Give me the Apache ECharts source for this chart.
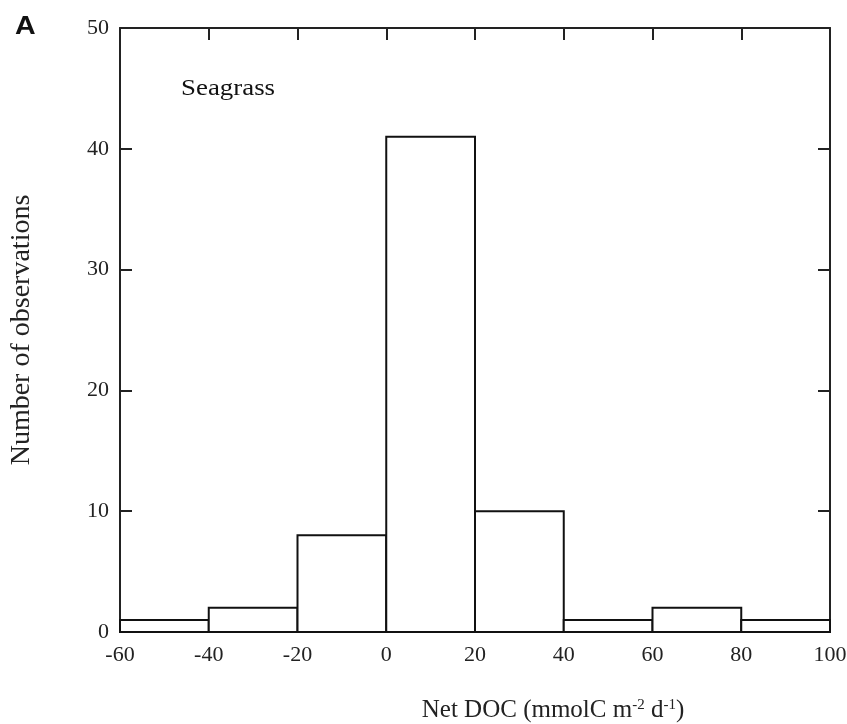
<!DOCTYPE html>
<html>
<head>
<meta charset="utf-8">
<script src="https://cdn.jsdelivr.net/npm/echarts@6/dist/echarts.min.js"></script>
<style>html,body{margin:0;padding:0;background:#fff;}#c{width:847px;height:724px;}</style>
</head>
<body>
<div id="c"></div>
<script>
const binStarts = [-60, -40, -20, 0, 20, 40, 60, 80];
const binEnds = [-40, -20, 0, 20, 40, 60, 80, 100];
const counts = [1, 2, 8, 41, 10, 1, 2, 1];
const panelLabel = 'A';
const groupLabel = 'Seagrass';
const xTitle = 'Net DOC (mmolC m{sup|-2} d{sup|-1})';
const yTitle = 'Number of observations';

const data = binStarts.map((s, i) => [s, binEnds[i], counts[i]]);
const serif = '"Liberation Serif", "Times New Roman", serif';
const axisLine = { show: true, onZero: false, lineStyle: { color: '#222', width: 2 } };
const tick = { show: true, inside: true, length: 12, lineStyle: { color: '#222', width: 2 } };

const chart = echarts.init(document.getElementById('c'), null, { renderer: 'canvas' });
chart.setOption({
  backgroundColor: '#fff',
  animation: false,
  grid: { left: 120, right: 17, top: 28, bottom: 92, containLabel: false, outerBoundsMode: 'none' },
  xAxis: [{
    type: 'value', min: -60, max: 100, interval: 20,
    axisLine: axisLine, axisTick: tick, splitLine: { show: false },
    axisLabel: { color: '#222', fontFamily: serif, fontSize: 22, margin: 12 },
    name: xTitle, nameLocation: 'middle', nameGap: 66,
    nameTextStyle: { color: '#222', fontFamily: serif, fontSize: 25, padding: [0, 0, 0, 156],
      rich: { sup: { fontFamily: serif, fontSize: 15, verticalAlign: 'top', padding: [0, 0, 10, 0] } } }
  }, {
    type: 'value', position: 'top', min: -60, max: 100, interval: 20,
    axisLine: axisLine, axisTick: tick, axisLabel: { show: false }, splitLine: { show: false }
  }],
  yAxis: [{
    type: 'value', position: 'left', min: 0, max: 50, interval: 10,
    axisLine: axisLine, axisTick: tick, splitLine: { show: false },
    axisLabel: { color: '#222', fontFamily: serif, fontSize: 22, margin: 11 },
    name: yTitle, nameLocation: 'middle', nameGap: 84,
    nameTextStyle: { color: '#222', fontFamily: serif, fontSize: 28 }
  }, {
    type: 'value', position: 'right', min: 0, max: 50, interval: 10,
    axisLine: axisLine, axisTick: tick, axisLabel: { show: false }, splitLine: { show: false }
  }],
  graphic: [
    { type: 'text', left: 15, top: 14, scaleX: 1.1, style: { text: panelLabel, font: 'bold 26px "Liberation Sans", Arial, sans-serif', fill: '#111' } },
    { type: 'text', left: 181, top: 77, scaleX: 1.12, style: { text: groupLabel, font: '24px ' + serif, fill: '#111' } }
  ],
  series: [{
    type: 'custom',
    xAxisIndex: 0, yAxisIndex: 0,
    encode: { x: [0, 1], y: 2 },
    data: data,
    renderItem: function (params, api) {
      const p0 = api.coord([api.value(0), api.value(2)]);
      const p1 = api.coord([api.value(1), 0]);
      return {
        type: 'rect',
        shape: { x: p0[0], y: p0[1], width: p1[0] - p0[0], height: p1[1] - p0[1] },
        style: { fill: '#fff', stroke: '#111', lineWidth: 2 }
      };
    }
  }]
});
</script>
</body>
</html>
